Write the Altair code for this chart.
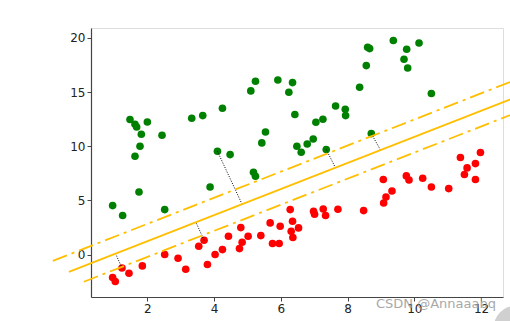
import altair as alt
import pandas as pd

# ---- data ----
green_x = [1.48, 1.63, 1.68, 2.00, 1.82, 2.44, 1.78, 1.63, 3.33, 3.66, 4.25, 4.10, 4.48,
           5.10, 5.24, 5.91, 6.35, 6.24, 6.42, 5.54, 5.43, 6.48, 6.61, 6.79, 6.97, 7.36,
           8.71, 7.05, 7.26, 7.64, 7.93, 7.94, 8.36, 8.56, 8.60, 8.66, 9.37, 9.77, 10.14,
           9.69, 9.80, 10.51, 1.75, 0.96, 1.26, 2.52, 3.88, 5.18, 5.24]
green_y = [12.47, 12.03, 11.78, 12.24, 11.11, 11.02, 10.00, 9.08, 12.59, 12.83, 13.51, 9.54, 9.23,
           15.11, 16.00, 16.12, 15.88, 14.99, 12.93, 11.32, 10.31, 10.00, 9.45, 10.21, 10.67, 9.70,
           11.17, 12.22, 12.49, 13.72, 13.42, 12.83, 15.45, 17.45, 19.14, 19.02, 19.76, 18.96, 19.54,
           18.03, 17.23, 14.87, 5.78, 4.52, 3.60, 4.15, 6.24, 7.60, 7.23]

red_x = [6.28, 6.35, 5.98, 5.68, 6.31, 6.36, 6.53, 5.75, 5.95, 5.40, 4.80, 5.02, 4.84, 4.76,
         4.43, 4.25, 4.03, 3.80, 3.70, 3.54, 3.15, 2.92, 2.52, 1.85, 1.45, 1.24, 0.96, 1.04,
         6.98, 7.01, 7.27, 7.34, 7.71, 8.48, 9.08, 9.15, 9.33, 9.07, 9.76, 9.84, 10.25, 10.51,
         11.03, 11.38, 11.58, 11.50, 11.83, 11.98, 11.83]
red_y = [4.15, 3.07, 2.61, 2.92, 2.15, 1.57, 2.46, 1.02, 1.02, 1.75, 2.49, 1.69, 1.14, 0.55,
         1.69, 0.46, 0.00, -0.92, 1.32, 0.77, -1.36, -0.34, 0.00, -1.05, -1.73, -1.24, -2.12, -2.49,
         4.00, 3.72, 4.21, 3.60, 4.18, 4.06, 4.76, 5.32, 5.87, 6.93, 7.26, 6.89, 7.05, 6.24,
         6.09, 8.96, 8.00, 7.39, 8.40, 9.42, 6.93]

# boundary and margin lines (end points)
solid_x = [-0.35, 13.5]
solid_y = [-1.60, 15.09]
upper_x = [-0.83, 13.0]
upper_y = [-0.58, 16.09]
lower_x = [0.10, 14.0]
lower_y = [-2.51, 14.24]

# dotted connectors: point -> boundary
conn_x1 = [4.10, 7.36, 8.71, 1.24, 3.70]
conn_y1 = [9.54, 9.70, 11.17, -1.24, 1.32]
conn_x2 = [4.83, 7.63, 8.98, 1.06, 3.46]
conn_y2 = [4.70, 8.05, 9.68, 0.00, 2.95]

x_ticks = [2, 4, 6, 8, 10, 12]
y_ticks = [0, 5, 10, 15, 20]

# ---- chart ----
W, H = 412, 269
xs = alt.Scale(domain=[0.312, 12.656], nice=False, zero=False)
ys = alt.Scale(domain=[-3.92, 20.92], nice=False, zero=False)

axis_common = dict(grid=False, domainColor="#444", domainWidth=1.2, tickColor="#444",
                   tickSize=4, labelFontSize=12, labelColor="#222", labelFont="DejaVu Sans",
                   title=None)

pts = pd.DataFrame({
    "x": green_x + red_x,
    "y": green_y + red_y,
    "cls": ["g"] * len(green_x) + ["r"] * len(red_x),
})

points = alt.Chart(pts).mark_circle(size=58, opacity=1).encode(
    x=alt.X("x:Q", scale=xs, axis=alt.Axis(values=x_ticks, **axis_common)),
    y=alt.Y("y:Q", scale=ys, axis=alt.Axis(values=y_ticks, **axis_common)),
    color=alt.Color("cls:N", scale=alt.Scale(domain=["g", "r"], range=["#008000", "#ff0000"]), legend=None),
)

def line_layer(xv, yv, dash):
    df = pd.DataFrame({"x": xv, "y": yv})
    kw = dict(color="#FFBF00", strokeWidth=1.8, clip=False)
    if dash:
        kw["strokeDash"] = dash
    return alt.Chart(df).mark_line(**kw).encode(
        x=alt.X("x:Q", scale=xs), y=alt.Y("y:Q", scale=ys))

solid = line_layer(solid_x, solid_y, None)
upper = line_layer(upper_x, upper_y, [15, 5, 3, 5])
lower = line_layer(lower_x, lower_y, [15, 5, 3, 5])

conn = pd.DataFrame({"x1": conn_x1, "y1": conn_y1, "x2": conn_x2, "y2": conn_y2})
connectors = alt.Chart(conn).mark_rule(color="black", strokeWidth=1, strokeDash=[1, 1.5]).encode(
    x=alt.X("x1:Q", scale=xs), y=alt.Y("y1:Q", scale=ys),
    x2="x2:Q", y2="y2:Q")

watermark = alt.Chart(pd.DataFrame({"t": ["CSDN @Annaaabq"]})).mark_text(
    align="right", baseline="middle", fontSize=13, color="#9a9a9a", font="DejaVu Sans",
    opacity=0.85, clip=False
).encode(x=alt.value(405), y=alt.value(276), text="t:N")

corner = alt.Chart(pd.DataFrame({"c": [1]})).mark_point(
    shape="circle", filled=True, size=2000, color="#d0d0d0", opacity=1, clip=False
).encode(x=alt.value(425), y=alt.value(300))

chart = alt.layer(points, connectors, solid, upper, lower, corner, watermark).properties(
    width=W, height=H,
    autosize=alt.AutoSizeParams(type="none"),
    padding={"left": 91, "top": 28, "right": 7, "bottom": 24},
).configure_view(stroke="#444", strokeWidth=1.2).configure(background="white")

chart.save("out.html", embed_options={"renderer": "svg", "actions": False})
